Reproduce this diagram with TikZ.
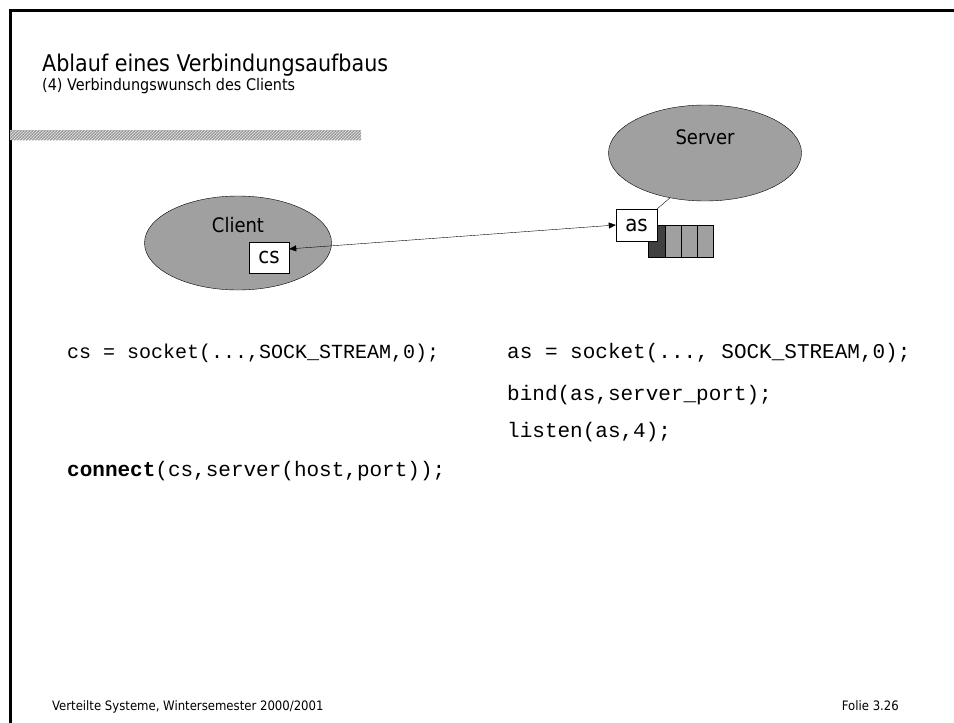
\documentclass[tikz,border=0pt]{standalone}
\usepackage{fontspec}
\setmainfont{DejaVu Sans Condensed}
\setmonofont{Liberation Mono}
\usetikzlibrary{patterns,shapes.geometric,arrows.meta}
\definecolor{blobgray}{HTML}{A0A0A0}
\definecolor{headgray}{HTML}{404040}
\tikzset{
  blob/.style={ellipse, draw, fill=blobgray, inner sep=0pt},
  sockbox/.style={draw, fill=white, inner sep=0pt, font=\fontsize{22}{24}\selectfont},
  code/.style={anchor=base west, inner sep=0pt, font=\fontsize{21}{24}\selectfont\ttfamily},
}
\begin{document}
\begin{tikzpicture}[x=1pt, y=-1pt]
  \useasboundingbox (0,0) rectangle (954,723);
  \draw[line width=3pt] (10,723) -- (10,10) -- (954,10);
  % heading
  \node[anchor=base west, inner sep=0pt, font=\fontsize{23}{26}\selectfont] (title) at (42,71) {Ablauf eines Verbindungsaufbaus};
  \node[anchor=base west, inner sep=0pt, font=\fontsize{16}{19}\selectfont] (subtitle) at (42,90) {(4) Verbindungswunsch des Clients};
  \fill[gray!70] (10,130) rectangle (361,140);
  \fill[pattern=crosshatch dots, pattern color=black] (10,130) rectangle (361,140);
  \fill[pattern=north east lines, pattern color=white!90!gray] (10,130) rectangle (361,140);
  % server with queue
  \node[blob, minimum width=193pt, minimum height=96pt,
        label={[anchor=north, yshift=-21pt, font=\fontsize{20}{22}\selectfont]north:Server}] (server) at (705,153) {};
  \draw[fill=headgray] (648,225) rectangle (665,257);
  \foreach \x in {665,681,697}
    \draw[fill=blobgray] (\x,225) rectangle +(16,32);
  \node[sockbox, minimum width=41pt, minimum height=32pt] (as) at (636.5,225) {as};
  \draw (as.north east) -- (server.232);
  % client
  \node[blob, minimum width=187pt, minimum height=94pt,
        label={[anchor=north, yshift=-18pt, font=\fontsize{20}{22}\selectfont]north:Client}] (client) at (238,243) {};
  \node[sockbox, minimum width=40pt, minimum height=31pt] (cs) at (269,257.5) {cs};
  \draw[{Triangle[length=7pt,width=6pt]}-{Triangle[length=7pt,width=6pt]}] (cs.23) -- (as.west);
  % code
  \node[code, font=\fontsize{20}{24}\selectfont\ttfamily] (csock) at (67,358) {cs = socket(...,SOCK\_STREAM,0);};
  \node[code] (asock) at (507,358) {as = socket(..., SOCK\_STREAM,0);};
  \node[code] (bind) at (507,400) {bind(as,server\_port);};
  \node[code] (listen) at (507,437) {listen(as,4);};
  \node[code] (connect) at (67,476) {\textbf{connect}(cs,server(host,port));};
  % footer
  \node[anchor=base west, inner sep=0pt, font=\fontsize{13}{15}\selectfont] (foot) at (52,710) {Verteilte Systeme, Wintersemester 2000/2001};
  \node[anchor=base east, inner sep=0pt, font=\fontsize{13}{15}\selectfont] (folie) at (899,710) {Folie 3.26};
\end{tikzpicture}
\end{document}
